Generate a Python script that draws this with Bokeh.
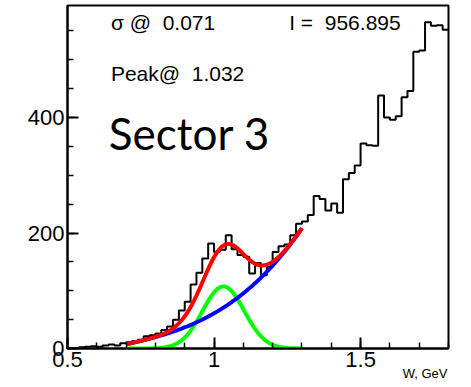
import numpy as np
from bokeh.plotting import figure
from bokeh.models import Range1d, FixedTicker, Label, Title
from bokeh.embed import file_html
from bokeh.resources import INLINE

# ---- data ----
w_lo, w_hi, n_bins = 0.5, 1.8, 65
counts = [1, 1, 2, 3, 4, 3, 5, 7, 5, 9,
          11, 13, 15, 21, 23, 26, 32, 38, 50, 66,
          81, 111, 131, 156, 182, 167, 171, 196, 172, 162,
          159, 130, 148, 127, 141, 167, 177, 180, 196, 216,
          220, 231, 264, 259, 239, 251, 235, 293, 304, 317,
          355, 352, 351, 438, 400, 396, 402, 435, 446, 514,
          516, 565, 559, 560, 552]

# fit results
fit_lo, fit_hi = 0.7, 1.3
g_amp, g_mean, g_sigma = 107.5, 1.032, 0.071
bg_coef = [61.0, 290.0, 520.0, 500.0]   # cubic in (W - 1)

x_ticks = [0.5, 1.0, 1.5]
x_tick_labels = ["0.5", "1", "1.5"]
y_ticks = [0, 200, 400]

NB = "\u00a0"
texts_sigma = "σ @" + NB + " 0.071"
texts_integral = "I =" + NB + " 956.895"
texts_peak = "Peak@" + NB + " 1.032"
texts_sector = "Sector 3"
x_title = "W, GeV"

# ---- figure ----
p = figure(width=471, height=387, output_backend="svg", toolbar_location=None,
           x_range=Range1d(w_lo, w_hi), y_range=Range1d(0, 594),
           min_border_left=67, min_border_right=23, min_border_top=5,
           min_border_bottom=39)
p.grid.visible = False
p.outline_line_color = "black"
p.outline_line_width = 2
p.background_fill_color = "white"
p.border_fill_color = "white"

for ax in (p.xaxis[0], p.yaxis[0]):
    ax.axis_line_width = 2
    ax.major_tick_in = 11
    ax.major_tick_out = 0
    ax.minor_tick_in = 6
    ax.minor_tick_out = 0
    ax.major_tick_line_width = 2
    ax.minor_tick_line_width = 1.5
    ax.major_label_text_font = "Liberation Sans"
    ax.major_label_text_font_size = "22px"
    ax.major_label_text_color = "black"
    ax.major_label_standoff = 3

p.xaxis[0].ticker = FixedTicker(ticks=x_ticks,
                                minor_ticks=list(np.round(np.arange(0.5, 1.81, 0.1), 2)))
p.xaxis[0].major_label_overrides = {t: l for t, l in zip(x_ticks, x_tick_labels)}
p.yaxis[0].ticker = FixedTicker(ticks=y_ticks, minor_ticks=list(range(0, 600, 50)))

# x-axis title at the lower right, below the axis
p.add_layout(Title(text=x_title, align="right", offset=1, standoff=-12,
                   text_font="Liberation Sans", text_font_style="normal",
                   text_font_size="13px", text_color="black"), "below")

# histogram
edges = np.linspace(w_lo, w_hi, n_bins + 1)
p.step(list(edges), counts + [counts[-1]], mode="after", line_color="black", line_width=2)

# fit curves
xf = np.linspace(fit_lo, fit_hi, 300)
gauss = g_amp * np.exp(-0.5 * ((xf - g_mean) / g_sigma) ** 2)
t = xf - 1.0
bg = bg_coef[0] + bg_coef[1] * t + bg_coef[2] * t ** 2 + bg_coef[3] * t ** 3
p.line(xf, gauss, line_color="#00ff00", line_width=4)
p.line(xf, bg, line_color="#0000ff", line_width=4)
p.line(xf, gauss + bg, line_color="#ff0000", line_width=4)

# texts
p.add_layout(Label(x=0.648, y=564, text=texts_sigma, text_font="Liberation Sans",
                   text_font_size="21px", text_baseline="alphabetic", text_color="black"))
p.add_layout(Label(x=1.2563, y=564, text=texts_integral, text_font="Liberation Sans",
                   text_font_size="21px", text_baseline="alphabetic", text_color="black"))
p.add_layout(Label(x=0.648, y=477, text=texts_peak, text_font="Liberation Sans",
                   text_font_size="21px", text_baseline="alphabetic", text_color="black"))
p.add_layout(Label(x=0.641, y=373, text=texts_sector, text_font="Lato",
                   text_font_size="44px", text_baseline="alphabetic", text_color="black"))

open("out.html", "w").write(file_html(p, INLINE))
